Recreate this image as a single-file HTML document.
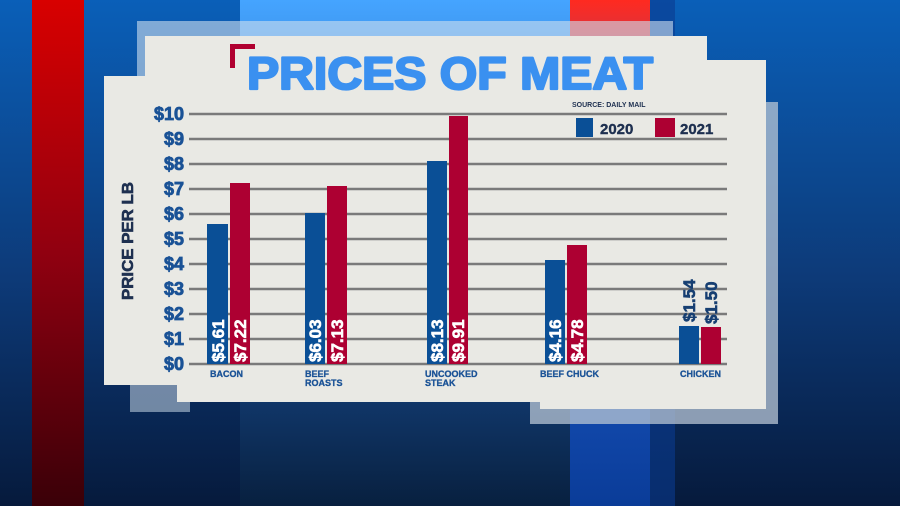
<!DOCTYPE html>
<html><head><meta charset="utf-8"><style>
html,body{margin:0;padding:0;width:900px;height:506px;overflow:hidden;background:#0a2a5a}
svg{display:block}
text{font-family:"Liberation Sans",sans-serif;font-weight:bold}
</style></head><body>
<svg width="900" height="506" viewBox="0 0 900 506" xmlns="http://www.w3.org/2000/svg">
<defs>
<linearGradient id="bg" x1="0" y1="0" x2="0" y2="1">
<stop offset="0" stop-color="#0a5fb8"/><stop offset="0.55" stop-color="#0d3a78"/><stop offset="1" stop-color="#061a3c"/>
</linearGradient>
<linearGradient id="red" x1="0" y1="0" x2="0" y2="1">
<stop offset="0" stop-color="#d80000"/><stop offset="0.5" stop-color="#900010"/><stop offset="1" stop-color="#3a0008"/>
</linearGradient>
<linearGradient id="lb" x1="0" y1="0" x2="0" y2="1">
<stop offset="0" stop-color="#45a4ff"/><stop offset="0.55" stop-color="#1a5099"/><stop offset="1" stop-color="#08203f"/>
</linearGradient>
<linearGradient id="rs" x1="0" y1="0" x2="0" y2="1">
<stop offset="0" stop-color="#ff2a20"/><stop offset="0.45" stop-color="#2060d0"/><stop offset="1" stop-color="#0a3c98"/>
</linearGradient>
</defs>
<rect width="900" height="506" fill="url(#bg)"/>
<rect x="240" y="0" width="330" height="506" fill="url(#lb)"/>
<rect x="570" y="0" width="80" height="506" fill="url(#rs)"/>
<rect x="650" y="0" width="25" height="506" fill="#0a3a90" opacity="0.6"/>
<rect x="32" y="0" width="52" height="506" fill="url(#red)"/>
<rect x="137" y="21" width="536" height="60" fill="#cfe0ee" opacity="0.6"/>
<rect x="130" y="100" width="60" height="312" fill="#b8c8d8" opacity="0.6"/>
<rect x="530" y="102" width="248" height="322" fill="#b8c6d4" opacity="0.75"/>
<path d="M145 36 H707 V60 H766 V409 H540 V402 H177 V385 H104 V76 H145 Z" fill="#e9e9e4"/>
<path d="M230 44 H255 V49 H235 V68 H230 Z" fill="#b00030"/>
<text x="247" y="89" font-size="45" fill="#3a90f0" stroke="#3a90f0" stroke-width="2.2" stroke-linejoin="round" textLength="406" lengthAdjust="spacingAndGlyphs">PRICES OF MEAT</text>
<g stroke="#7a7a7a" stroke-width="2.5">
<line x1="189" x2="727" y1="114" y2="114"/><line x1="189" x2="727" y1="139" y2="139"/>
<line x1="189" x2="727" y1="164" y2="164"/><line x1="189" x2="727" y1="189" y2="189"/>
<line x1="189" x2="727" y1="214" y2="214"/><line x1="189" x2="727" y1="239" y2="239"/>
<line x1="189" x2="727" y1="264" y2="264"/><line x1="189" x2="727" y1="289" y2="289"/>
<line x1="189" x2="727" y1="314" y2="314"/><line x1="189" x2="727" y1="339" y2="339"/>
<line x1="189" x2="727" y1="364" y2="364"/>
</g>
<g font-size="18" fill="#1a5296" stroke="#1a5296" stroke-width="0.8" text-anchor="end">
<text x="184" y="120">$10</text><text x="184" y="145">$9</text><text x="184" y="170">$8</text>
<text x="184" y="195">$7</text><text x="184" y="220">$6</text><text x="184" y="245">$5</text>
<text x="184" y="270">$4</text><text x="184" y="295">$3</text><text x="184" y="320">$2</text>
<text x="184" y="345">$1</text><text x="184" y="370">$0</text>
</g>
<text transform="translate(133,300) rotate(-90)" font-size="16" fill="#1e3050" stroke="#1e3050" stroke-width="0.6" textLength="118" lengthAdjust="spacingAndGlyphs">PRICE PER LB</text>
<text x="572" y="107" font-size="7" fill="#1e3050">SOURCE: DAILY MAIL</text>
<rect x="576" y="118" width="17" height="19" fill="#0a4f96"/>
<text x="600" y="134" font-size="15" fill="#1e3050" stroke="#1e3050" stroke-width="0.4">2020</text>
<rect x="655" y="118" width="20" height="19" fill="#ad0032"/>
<text x="680" y="134" font-size="15" fill="#1e3050" stroke="#1e3050" stroke-width="0.4">2021</text>
<g fill="#0a4f96">
<rect x="207" y="224" width="21" height="140"/><rect x="305" y="213" width="20" height="151"/>
<rect x="427" y="161" width="20" height="203"/><rect x="545" y="260" width="20" height="104"/>
<rect x="679" y="326" width="20" height="38"/>
</g>
<g fill="#ad0032">
<rect x="230" y="183" width="20" height="181"/><rect x="327" y="186" width="20" height="178"/>
<rect x="449" y="116" width="19" height="248"/><rect x="567" y="245" width="20" height="119"/>
<rect x="701" y="327" width="20" height="37"/>
</g>
<g font-size="17" fill="#ffffff" stroke="#ffffff" stroke-width="0.6">
<text transform="translate(224,362) rotate(-90)">$5.61</text>
<text transform="translate(246,362) rotate(-90)">$7.22</text>
<text transform="translate(321,362) rotate(-90)">$6.03</text>
<text transform="translate(343,362) rotate(-90)">$7.13</text>
<text transform="translate(443,362) rotate(-90)">$8.13</text>
<text transform="translate(464,362) rotate(-90)">$9.91</text>
<text transform="translate(561,362) rotate(-90)">$4.16</text>
<text transform="translate(583,362) rotate(-90)">$4.78</text>
</g>
<g font-size="17" fill="#163f72" stroke="#163f72" stroke-width="0.6">
<text transform="translate(695,322) rotate(-90)">$1.54</text>
<text transform="translate(717,324) rotate(-90)">$1.50</text>
</g>
<g font-size="9" fill="#1a5296" stroke="#1a5296" stroke-width="0.3">
<text x="210" y="377">BACON</text>
<text x="305" y="377">BEEF</text><text x="305" y="386">ROASTS</text>
<text x="425" y="377">UNCOOKED</text><text x="425" y="386">STEAK</text>
<text x="540" y="377">BEEF CHUCK</text>
<text x="680" y="377">CHICKEN</text>
</g>
</svg>
</body></html>
